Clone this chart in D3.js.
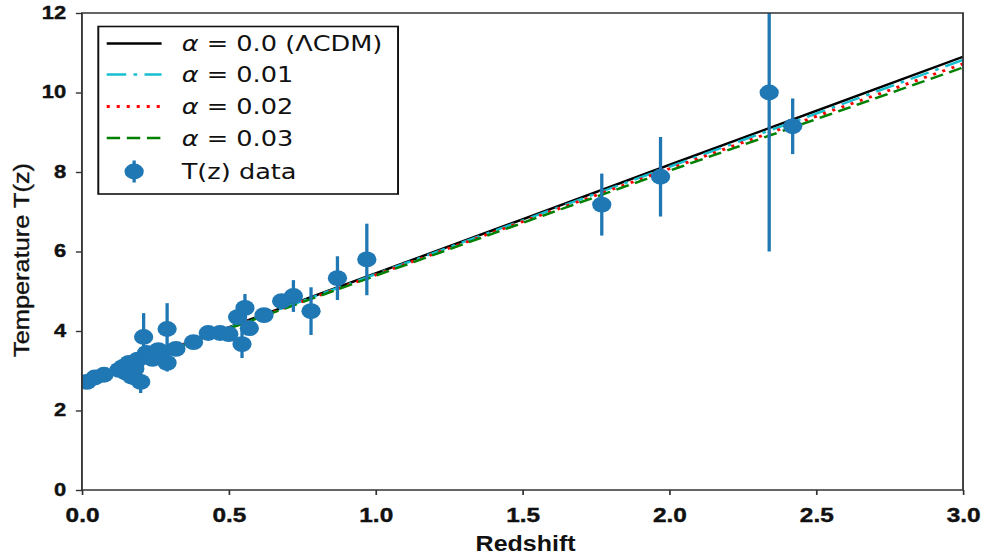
<!DOCTYPE html>
<html>
<head>
<meta charset="utf-8">
<script src="https://cdn.jsdelivr.net/npm/d3@7"></script>
<style>
  html, body { margin: 0; padding: 0; background: #fff; }
  svg { display: block; }
</style>
</head>
<body>
<svg id="chart"></svg>
<script>
"use strict";

// measured points: redshift, temperature, error
var zData = [0.017, 0.044, 0.075, 0.126, 0.14, 0.15, 0.16, 0.17, 0.18, 0.20, 0.19, 0.21, 0.22, 0.23, 0.24,
    0.25, 0.26, 0.27, 0.29, 0.29, 0.32, 0.38, 0.43, 0.47, 0.50, 0.53, 0.555, 0.545, 0.57, 0.62, 0.68,
    0.72, 0.78, 0.87, 0.97, 1.77, 1.97, 2.34, 2.42];
var tData = [2.72, 2.83, 2.90, 3.02, 3.10, 2.95, 3.20, 2.85, 3.05, 2.72, 3.28, 3.85, 3.45, 3.37, 3.30,
    3.45, 3.52, 3.33, 3.20, 4.05, 3.55, 3.72, 3.95, 3.95, 3.92, 4.35, 4.58, 3.67, 4.07, 4.40, 4.75,
    4.88, 4.50, 5.33, 5.80, 7.18, 7.88, 10.0, 9.15];
var tErr = [0.05, 0.08, 0.10, 0.10, 0.10, 0.15, 0.10, 0.20, 0.10, 0.28, 0.15, 0.60, 0.12, 0.20, 0.12,
    0.20, 0.10, 0.15, 0.22, 0.65, 0.10, 0.10, 0.10, 0.10, 0.10, 0.15, 0.35, 0.35, 0.10, 0.10, 0.10,
    0.40, 0.60, 0.55, 0.90, 0.78, 1.00, 4.00, 0.70];

// model curves read at these redshifts
var zModel = [0, 0.5, 1.0, 1.5, 2.0, 2.5, 3.0];
var tLcdm = [2.725, 4.09, 5.45, 6.81, 8.18, 9.54, 10.90];
var tAlpha01 = [2.725, 4.08, 5.43, 6.78, 8.13, 9.47, 10.82];
var tAlpha02 = [2.725, 4.07, 5.41, 6.75, 8.08, 9.40, 10.72];
var tAlpha03 = [2.725, 4.06, 5.39, 6.72, 8.03, 9.33, 10.63];

var xTicks = [0, 0.5, 1.0, 1.5, 2.0, 2.5, 3.0];
var yTicks = [0, 2, 4, 6, 8, 10, 12];

var modelLabels = ["0.0 (\u039BCDM)", "0.01", "0.02", "0.03"];
var modelColors = ["#000000", "#17becf", "#ff0000", "#008000"];
var modelDashes = [null, "16,6,3,6", "2.5,5.7", "11,5.5"];
var dataLabel = "T(z) data";

var W = 989, H = 556;
var VW = 811;   // drawing units wide; the figure is stretched sideways to fill 989px
var blue = "#1f77b4";

var svg = d3.select("#chart")
    .attr("width", W)
    .attr("height", H)
    .attr("viewBox", "0 0 " + VW + " " + H)
    .attr("preserveAspectRatio", "none");

var plot = {left: 67.2, right: 789.7, top: 13, bottom: 490};

var x = d3.scaleLinear().domain([0, 3]).range([plot.left, plot.right]);
var y = d3.scaleLinear().domain([0, 12]).range([plot.bottom, plot.top]);

svg.append("defs").append("clipPath")
    .attr("id", "clip")
    .append("rect")
    .attr("x", plot.left)
    .attr("y", plot.top)
    .attr("width", plot.right - plot.left)
    .attr("height", plot.bottom - plot.top);

var gPlot = svg.append("g").attr("clip-path", "url(#clip)");

// model lines
var models = [tLcdm, tAlpha01, tAlpha02, tAlpha03];
var line = d3.line()
    .x(function(d, i){ return x(zModel[i]); })
    .y(function(d){ return y(d); });

models.forEach(function(m, i){
    gPlot.append("path")
        .datum(m)
        .attr("d", line)
        .attr("fill", "none")
        .attr("stroke", modelColors[i])
        .attr("stroke-width", i === 2 ? 2.8 : 2.4)
        .attr("stroke-dasharray", modelDashes[i]);
});

// data points with error bars
var pts = zData.map(function(z, i){ return {z: z, t: tData[i], e: tErr[i]}; });

gPlot.selectAll(".errBar")
    .data(pts)
    .enter()
    .append("line")
    .attr("class", "errBar")
    .attr("x1", function(d){ return x(d.z); })
    .attr("x2", function(d){ return x(d.z); })
    .attr("y1", function(d){ return y(d.t - d.e); })
    .attr("y2", function(d){ return y(d.t + d.e); })
    .attr("stroke", blue)
    .attr("stroke-width", 2.7);

gPlot.selectAll(".dot")
    .data(pts)
    .enter()
    .append("circle")
    .attr("class", "dot")
    .attr("cx", function(d){ return x(d.z); })
    .attr("cy", function(d){ return y(d.t); })
    .attr("r", 7.9)
    .attr("fill", blue);

// axes
var xAxis = d3.axisBottom(x).tickValues(xTicks).tickSize(5).tickPadding(0).tickFormat(d3.format(".1f"));
var yAxis = d3.axisLeft(y).tickValues(yTicks).tickSize(5).tickPadding(0).tickFormat(d3.format("d"));

var gx = svg.append("g").attr("transform", "translate(0," + plot.bottom + ")").call(xAxis);
var gy = svg.append("g").attr("transform", "translate(" + plot.left + ",0)").call(yAxis);

[gx, gy].forEach(function(g){
    g.select(".domain").remove();
    g.selectAll(".tick line").attr("stroke", "#333").attr("stroke-width", 1.4);
    g.selectAll(".tick text")
        .attr("fill", "#111")
        .attr("font-family", "'Liberation Sans', Arial, sans-serif")
        .attr("font-weight", "bold")
        .attr("stroke", "#111")
        .attr("stroke-width", 0.4);
});
gx.selectAll(".tick text").attr("font-size", 20).attr("y", 0).attr("dy", 32);
gy.selectAll(".tick text").attr("font-size", 18).attr("x", -13).attr("dy", "0.3em");

// frame
svg.append("rect")
    .attr("x", plot.left)
    .attr("y", plot.top)
    .attr("width", plot.right - plot.left)
    .attr("height", plot.bottom - plot.top)
    .attr("fill", "none")
    .attr("stroke", "#333")
    .attr("stroke-width", 1.5);

// axis titles
svg.append("text")
    .attr("x", 431)
    .attr("y", 551)
    .attr("text-anchor", "middle")
    .attr("font-family", "'Liberation Sans Narrow', 'Liberation Sans', Arial, sans-serif")
    .attr("font-weight", "bold")
    .attr("font-size", 22)
    .attr("textLength", 82)
    .attr("lengthAdjust", "spacingAndGlyphs")
    .attr("fill", "#111")
    .text("Redshift");

svg.append("text")
    .attr("transform", "translate(23.5,260) rotate(-90)")
    .attr("text-anchor", "middle")
    .attr("font-family", "'Liberation Sans', Arial, sans-serif")
    .attr("font-size", 18)
    .attr("textLength", 194)
    .attr("lengthAdjust", "spacingAndGlyphs")
    .attr("fill", "#111")
    .attr("stroke", "#111")
    .attr("stroke-width", 0.3)
    .text("Temperature T(z)");

// legend
var leg = svg.append("g").attr("class", "legend");
leg.append("rect")
    .attr("x", 80.6)
    .attr("y", 26.5)
    .attr("width", 245.8)
    .attr("height", 167.5)
    .attr("fill", "#fff")
    .attr("stroke", "#111")
    .attr("stroke-width", 1.6);

var rowY = [43.5, 74.5, 106.5, 138, 171.5];
var sampleX0 = 87.5, sampleX1 = 132.5, textX = 149;

modelLabels.forEach(function(lab, i){
    leg.append("line")
        .attr("x1", sampleX0).attr("x2", sampleX1)
        .attr("y1", rowY[i]).attr("y2", rowY[i])
        .attr("stroke", modelColors[i])
        .attr("stroke-width", i === 2 ? 2.8 : 2.4)
        .attr("stroke-dasharray", modelDashes[i]);

    var t = leg.append("text")
        .attr("x", textX)
        .attr("y", rowY[i])
        .attr("dy", "0.36em")
        .attr("font-family", "'DejaVu Sans', sans-serif")
        .attr("font-size", 21)
        .attr("fill", "#111");
    t.append("tspan").attr("font-style", "italic").text("\u03B1");
    t.append("tspan").text(" = " + lab);
});

var mx = (sampleX0 + sampleX1) / 2;
leg.append("line")
    .attr("x1", mx).attr("x2", mx)
    .attr("y1", rowY[4] - 11).attr("y2", rowY[4] + 11)
    .attr("stroke", blue)
    .attr("stroke-width", 2.7);
leg.append("circle")
    .attr("cx", mx)
    .attr("cy", rowY[4])
    .attr("r", 7.9)
    .attr("fill", blue);
leg.append("text")
    .attr("x", textX)
    .attr("y", rowY[4])
    .attr("dy", "0.36em")
    .attr("font-family", "'DejaVu Sans', sans-serif")
    .attr("font-size", 21)
    .attr("fill", "#111")
    .text(dataLabel);
</script>
</body>
</html>
